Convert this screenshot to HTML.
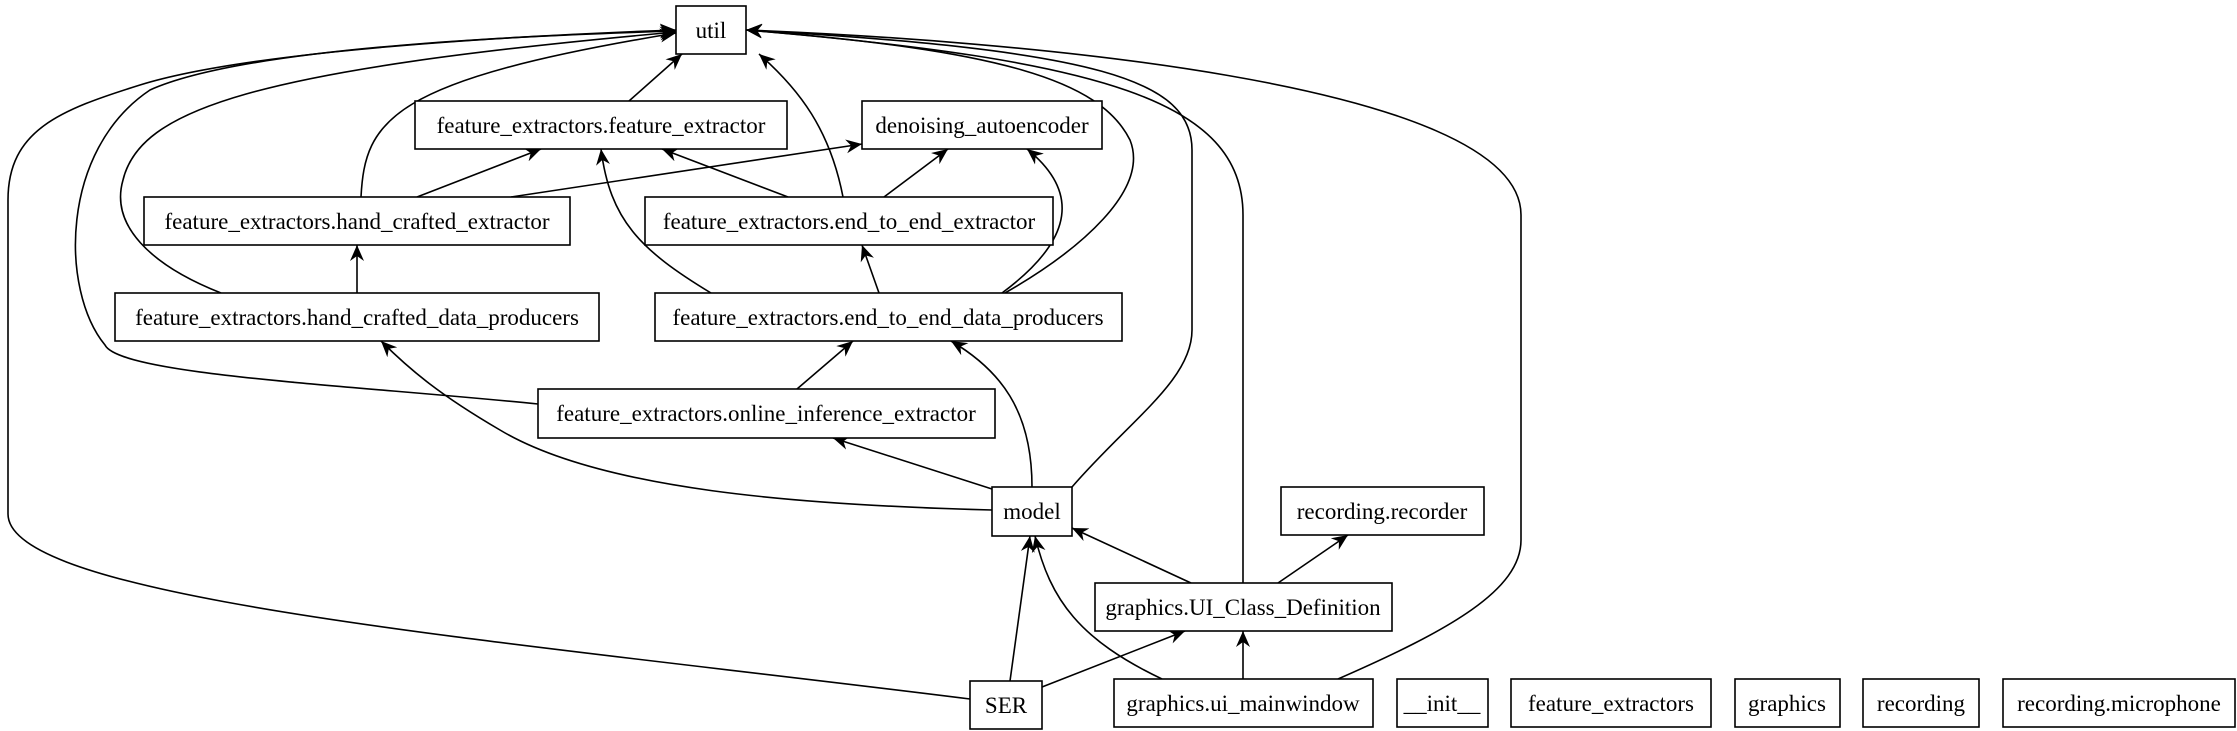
<!DOCTYPE html>
<html><head><meta charset="utf-8"><style>
html,body{margin:0;padding:0;background:#fff;}
svg{display:block;}
text{font-family:"Liberation Serif",serif;font-size:23px;fill:#000;}
</style></head><body>
<svg width="2237" height="731" viewBox="0 0 2237 731" xmlns="http://www.w3.org/2000/svg">
<defs>
<marker id="a" markerWidth="18" markerHeight="14" refX="16" refY="7" orient="auto" markerUnits="userSpaceOnUse">
<path d="M0,0 L16,7 L0,14 L5,7 Z" fill="#000"/>
</marker>
</defs>
<g fill="none" stroke="#000" stroke-width="1.6" marker-end="url(#a)">
<path d="M629,101 L682,54"/>
<path d="M361,197 C365,120 390,80 676,33"/>
<path d="M221,293 C150,265 110,225 123,180 C140,110 250,70 676,32"/>
<path d="M538,404 C350,385 120,375 105,345 C60,290 60,150 150,90 C250,45 550,35 676,31"/>
<path d="M970,699 C500,640 8,600 8,514 L8,200 C8,130 60,110 140,85 C220,60 400,40 676,30"/>
<path d="M843,197 C830,130 800,90 759,54"/>
<path d="M1005,293 C1080,250 1150,190 1130,140 C1100,80 1000,50 746,30"/>
<path d="M1072,487 C1130,420 1192,380 1192,330 L1192,150 C1192,80 1100,50 746,30"/>
<path d="M1243,583 L1243,215 C1243,100 1100,60 746,30"/>
<path d="M1338,679 C1450,630 1521,590 1521,540 L1521,215 C1521,80 1000,40 746,30"/>
<path d="M417,197 L541,149"/>
<path d="M511,197 L862,144"/>
<path d="M788,197 L662,149"/>
<path d="M884,197 L948,149"/>
<path d="M357,293 L357,245"/>
<path d="M879,293 L862,245"/>
<path d="M711,293 C640,250 610,220 601,149"/>
<path d="M1002,293 C1060,250 1090,200 1027,149"/>
<path d="M797,389 L853,341"/>
<path d="M1032,487 C1032,410 1000,370 951,341"/>
<path d="M992,489 L833,438"/>
<path d="M992,510 C800,505 600,490 500,430 C440,395 410,370 381,341"/>
<path d="M1010,681 L1030,536"/>
<path d="M1042,687 L1185,631"/>
<path d="M1162,679 C1080,640 1050,600 1035,536"/>
<path d="M1243,679 L1243,631"/>
<path d="M1191,583 L1072,528"/>
<path d="M1278,583 L1348,535"/>
</g>
<g fill="#fff" stroke="#000" stroke-width="1.6">
<rect x="676" y="6" width="70" height="48"/>
<rect x="415" y="101" width="372" height="48"/>
<rect x="862" y="101" width="240" height="48"/>
<rect x="144" y="197" width="426" height="48"/>
<rect x="645" y="197" width="408" height="48"/>
<rect x="115" y="293" width="484" height="48"/>
<rect x="655" y="293" width="467" height="48"/>
<rect x="538" y="389" width="457" height="49"/>
<rect x="992" y="487" width="80" height="49"/>
<rect x="1281" y="487" width="203" height="48"/>
<rect x="1095" y="583" width="297" height="48"/>
<rect x="970" y="681" width="72" height="48"/>
<rect x="1114" y="679" width="259" height="48"/>
<rect x="1397" y="679" width="91" height="48"/>
<rect x="1511" y="679" width="200" height="48"/>
<rect x="1735" y="679" width="105" height="48"/>
<rect x="1863" y="679" width="116" height="48"/>
<rect x="2003" y="679" width="232" height="48"/>
</g>
<g text-anchor="middle">
<text x="711" y="38">util</text>
<text x="601" y="133">feature_extractors.feature_extractor</text>
<text x="982" y="133">denoising_autoencoder</text>
<text x="357" y="229">feature_extractors.hand_crafted_extractor</text>
<text x="849" y="229">feature_extractors.end_to_end_extractor</text>
<text x="357" y="325">feature_extractors.hand_crafted_data_producers</text>
<text x="888" y="325">feature_extractors.end_to_end_data_producers</text>
<text x="766" y="421">feature_extractors.online_inference_extractor</text>
<text x="1032" y="519">model</text>
<text x="1382" y="519">recording.recorder</text>
<text x="1243" y="615">graphics.UI_Class_Definition</text>
<text x="1006" y="713">SER</text>
<text x="1243" y="711">graphics.ui_mainwindow</text>
<text x="1442" y="711">__init__</text>
<text x="1611" y="711">feature_extractors</text>
<text x="1787" y="711">graphics</text>
<text x="1921" y="711">recording</text>
<text x="2119" y="711">recording.microphone</text>
</g>
</svg>
</body></html>
